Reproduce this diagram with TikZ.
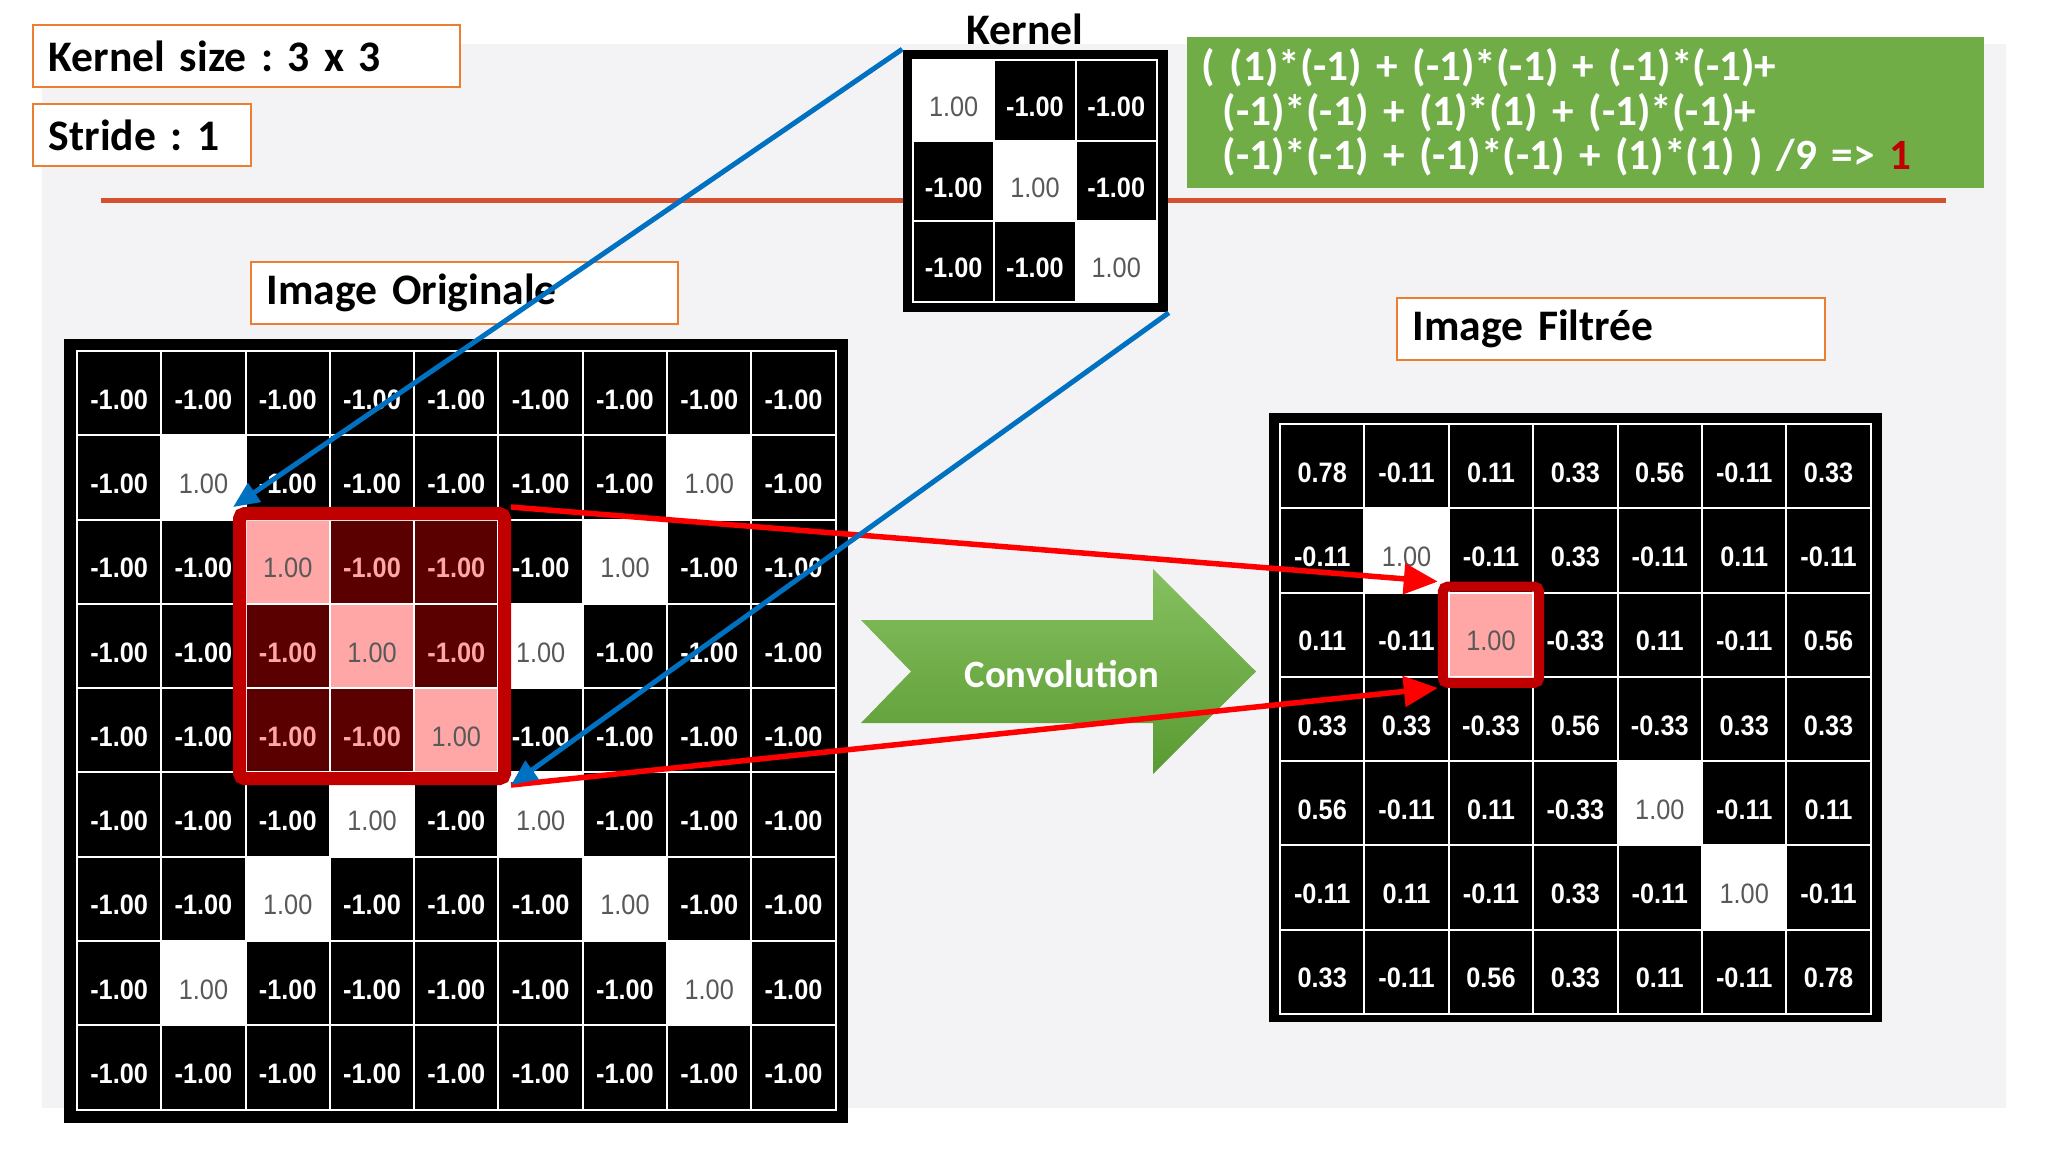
\documentclass[tikz,border=0pt]{standalone}
\usepackage{fontspec}
\setmainfont{Carlito}
\newfontfamily\formulafont{Carlito}[WordSpace=0.5]
\newfontfamily\cellfont[FakeStretch=0.9]{Liberation Sans}
\usetikzlibrary{fit,arrows.meta}
\frenchspacing

\definecolor{bggray}{HTML}{F3F3F5}
\definecolor{boxorange}{HTML}{ED7D31}
\definecolor{rulered}{HTML}{D4502E}
\definecolor{formulagreen}{HTML}{70AD47}
\definecolor{kernelblue}{HTML}{0070C0}
\definecolor{hlred}{HTML}{C00000}
\definecolor{hlpink}{HTML}{FFA6A6}
\definecolor{hldark}{HTML}{5A0000}
\definecolor{ongray}{HTML}{595959}
\definecolor{convlight}{HTML}{86C060}
\definecolor{convdark}{HTML}{5A9A32}

\newcommand\labelfont{\fontsize{12.4}{14}\selectfont\bfseries\spaceskip=0.12em\relax}

\tikzset{
  labelbox/.style={draw=boxorange, fill=white, line width=0.02cm, minimum height=0.62cm,
    inner xsep=0.16cm, align=left, font=\labelfont},
  formula/.style={fill=formulagreen, text=white, minimum width=7.97cm, minimum height=1.51cm,
    text width=7.67cm, inner xsep=0.15cm, align=left, font=\formulafont\fontsize{12.3}{12.6}\selectfont\bfseries},
  numcell/.style={minimum width=0.843cm, minimum height=0.843cm, inner sep=0, draw=white,
    line width=0.02cm, font=\cellfont\fontsize{8}{9}\selectfont},
  celloff/.style={numcell, fill=black, text=white, font=\cellfont\fontsize{8}{9}\selectfont\bfseries},
  cellon/.style={numcell, fill=white, text=ongray},
  cellhloff/.style={numcell, fill=hldark, text=hlpink, font=\cellfont\fontsize{8}{9}\selectfont\bfseries},
  cellhlon/.style={numcell, fill=hlpink, text=ongray},
  gridframe/.style={fill=black, inner sep=0},
  hlbox/.style={draw=hlred, rounded corners=0.05cm, inner sep=0.05cm},
  bluearrow/.style={kernelblue, line width=0.05cm, -{Triangle[length=0.26cm,width=0.22cm]}},
  redarrow/.style={red, line width=0.055cm, -{Triangle[length=0.34cm,width=0.3cm]}}
}
\newcommand\cellval[1]{\raisebox{-0.16cm}[0pt][0pt]{#1}}

\begin{document}
\begin{tikzpicture}[x=0.01cm, y=-0.01cm]
  \useasboundingbox (0,0) rectangle (2048,1152);
  \fill[white] (0,0) rectangle (2048,1152);
  \fill[bggray] (42,44) rectangle (2006,1108);
  \draw[rulered, line width=0.045cm] (101,200.5) -- (1946,200.5);

  \node[labelbox, text width=3.95cm] (ksize) at (246.5,56) {Kernel size : 3 x 3};
  \node[labelbox, text width=1.86cm] (stride) at (142,135) {Stride : 1};
  \node[labelbox, text width=3.95cm] (origlabel) at (464.5,293) {Image Originale};
  \node[labelbox, text width=3.96cm] (filtlabel) at (1611,329) {Image Filtrée};
  \node[font=\bfseries\fontsize{12.4}{14}\selectfont] (kernlabel) at (1025,29) {Kernel};
  \node[formula] (calc) at (1585.5,112.5) {( (1)*(-1) + (-1)*(-1) + (-1)*(-1)+\\
    \hspace*{0.21cm}(-1)*(-1) + (1)*(1) + (-1)*(-1)+\\
    \hspace*{0.21cm}(-1)*(-1) + (-1)*(-1) + (1)*(1) ) /9 => \textcolor{hlred}{1}};

  % kernel
  \node[gridframe, minimum width=2.65cm, minimum height=2.62cm] (kern) at (1035.5,181) {};
  \foreach \row [count=\r from 0] in {{1.00,-1.00,-1.00},{-1.00,1.00,-1.00},{-1.00,-1.00,1.00}}{
    \foreach \v [count=\c from 0] in \row {
      \ifdim\v pt>0.5pt \def\kind{cellon}\else\def\kind{celloff}\fi
      \node[\kind, minimum width=0.813cm, minimum height=0.807cm] (k-\r-\c)
        at ({913+81.3*(\c+0.5)},{60+80.7*(\r+0.5)}) {\cellval{\v}};
    }
  }

  % original image
  \node[gridframe, minimum size=7.83cm] (orig) at (456,731) {};
  \foreach \row [count=\r from 0] in {
    {-1.00,-1.00,-1.00,-1.00,-1.00,-1.00,-1.00,-1.00,-1.00},
    {-1.00,1.00,-1.00,-1.00,-1.00,-1.00,-1.00,1.00,-1.00},
    {-1.00,-1.00,1.00,-1.00,-1.00,-1.00,1.00,-1.00,-1.00},
    {-1.00,-1.00,-1.00,1.00,-1.00,1.00,-1.00,-1.00,-1.00},
    {-1.00,-1.00,-1.00,-1.00,1.00,-1.00,-1.00,-1.00,-1.00},
    {-1.00,-1.00,-1.00,1.00,-1.00,1.00,-1.00,-1.00,-1.00},
    {-1.00,-1.00,1.00,-1.00,-1.00,-1.00,1.00,-1.00,-1.00},
    {-1.00,1.00,-1.00,-1.00,-1.00,-1.00,-1.00,1.00,-1.00},
    {-1.00,-1.00,-1.00,-1.00,-1.00,-1.00,-1.00,-1.00,-1.00}}{
    \foreach \v [count=\c from 0] in \row {
      \pgfmathtruncatemacro\hl{(\r>1)*(\r<5)*(\c>1)*(\c<5)}
      \ifdim\v pt>0.5pt \def\kind{on}\else\def\kind{off}\fi
      \ifnum\hl=1 \edef\kind{hl\kind}\fi
      \node[cell\kind] (o-\r-\c) at ({77+84.3*(\c+0.5)},{351+84.3*(\r+0.5)}) {\cellval{\v}};
    }
  }

  % filtered image
  \node[gridframe, minimum width=6.13cm, minimum height=6.09cm] (filt) at (1575.5,717.5) {};
  \foreach \row [count=\r from 0] in {
    {0.78,-0.11,0.11,0.33,0.56,-0.11,0.33},
    {-0.11,1.00,-0.11,0.33,-0.11,0.11,-0.11},
    {0.11,-0.11,1.00,-0.33,0.11,-0.11,0.56},
    {0.33,0.33,-0.33,0.56,-0.33,0.33,0.33},
    {0.56,-0.11,0.11,-0.33,1.00,-0.11,0.11},
    {-0.11,0.11,-0.11,0.33,-0.11,1.00,-0.11},
    {0.33,-0.11,0.56,0.33,0.11,-0.11,0.78}}{
    \foreach \v [count=\c from 0] in \row {
      \pgfmathtruncatemacro\hl{(\r==2)*(\c==2)}
      \ifdim\v pt>0.9pt \def\kind{on}\else\def\kind{off}\fi
      \ifnum\hl=1 \edef\kind{hl\kind}\fi
      \node[cell\kind] (f-\r-\c) at ({1280+84.4*(\c+0.5)},{424+84.3*(\r+0.5)}) {\cellval{\v}};
    }
  }

  \node[hlbox, line width=0.13cm, fit=(o-2-2)(o-4-4)] (ohl) {};
  \node[hlbox, line width=0.1cm, fit=(f-2-2)] (fhl) {};

  \shade[top color=convlight, bottom color=convdark] (861,620) -- (1153,620) -- (1153,569)
    -- (1256,671.5) -- (1153,774) -- (1153,723) -- (861,723) -- (911,671.5) -- cycle;
  \node[text=white, font=\bfseries\fontsize{11}{13}\selectfont] (conv) at (1062,674) {Convolution};

  \draw[redarrow] (ohl.north east) -- (fhl.north west);
  \draw[redarrow] (ohl.south east) -- (fhl.south west);
  \draw[bluearrow] (kern.north west) -- (ohl.north west);
  \draw[bluearrow] (kern.south east) -- (ohl.south east);
\end{tikzpicture}
\end{document}
